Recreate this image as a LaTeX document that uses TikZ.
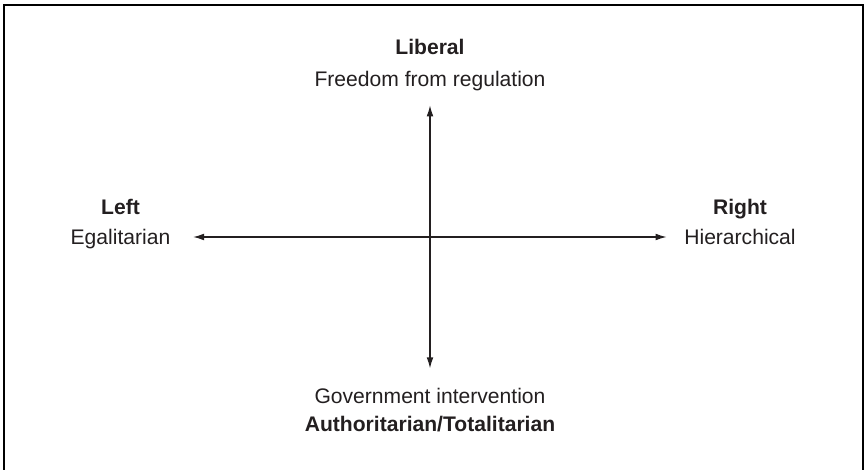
\documentclass[tikz,border=0pt]{standalone}
\usepackage{fontspec}
\setmainfont{Liberation Sans}
\usetikzlibrary{arrows.meta,calc}
\definecolor{tinta}{HTML}{231F20}
\tikzset{
  polo/.style  = {align=center, text=tinta, font=\fontsize{12}{17}\selectfont},
  eje/.style   = {{Latex[length=2.2mm,width=1.35mm]}-{Latex[length=2.2mm,width=1.35mm]},
                  line width=0.7pt, draw=tinta},
  marco/.style = {line width=1.15pt},
}
\begin{document}
\begin{tikzpicture}
  \useasboundingbox (-8.6,-4.64) rectangle (8.7,4.74);
  % marco abierto por abajo
  \draw[marco] (-8.514,-4.8) -- (-8.514,4.64) -- (8.65,4.64) -- (8.65,-4.8);
  \coordinate (o) at (0,0);
  \node[polo] (li) at (0,3.44)     {\textbf{Liberal}\\[1pt] Freedom from regulation};
  \node[polo] (au) at (0,-3.46)    {Government intervention\\[-1pt] \textbf{Authoritarian/Totalitarian}};
  \node[polo] (le) at (-6.19,0.26) {\textbf{Left}\\ Egalitarian};
  \node[polo] (ri) at (6.2,0.30)   {\textbf{Right}\\ Hierarchical};
  \draw[eje, shorten <=3.3mm, shorten >=2.3mm] (le.east |- o) -- (ri.west |- o);
  \draw[eje, shorten <=1.7mm, shorten >=2.7mm] (li.south) -- (au.north);
\end{tikzpicture}
\end{document}
